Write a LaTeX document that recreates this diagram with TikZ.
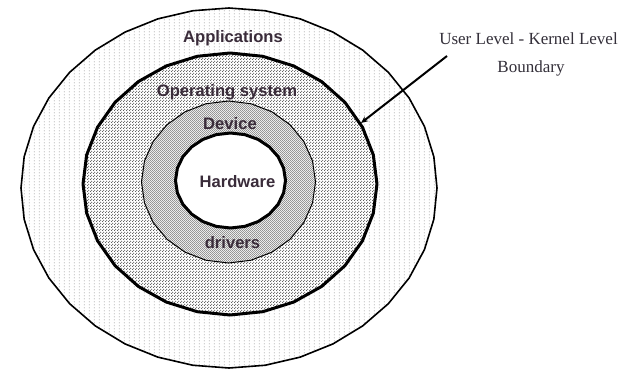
\documentclass[tikz,border=0pt]{standalone}
\usepackage{fontspec}
\setmainfont{Liberation Serif}
\newfontfamily\labelsans{Liberation Sans}
\usetikzlibrary{patterns.meta,arrows.meta}

\definecolor{labelink}{RGB}{58,44,58}
\definecolor{noteink}{RGB}{52,48,58}

% stipple textures for the three shaded rings
\tikzdeclarepattern{
  name=sparsedots,
  bounding box={(0pt,0pt) and (4.5pt,3pt)},
  tile size={(4.5pt,3pt)},
  code={\fill (1.5pt,1.5pt) circle (0.6pt);}
}
\tikzdeclarepattern{
  name=checkdots,
  bounding box={(0pt,0pt) and (3pt,3pt)},
  tile size={(3pt,3pt)},
  code={\fill (0.75pt,0.75pt) circle (0.75pt); \fill (2.25pt,2.25pt) circle (0.75pt);}
}
\tikzdeclarepattern{
  name=finecheck,
  bounding box={(0pt,0pt) and (2.4pt,2.4pt)},
  tile size={(2.4pt,2.4pt)},
  code={\fill (0.6pt,0.6pt) circle (0.55pt); \fill (1.8pt,1.8pt) circle (0.55pt);}
}

\begin{document}
\begin{tikzpicture}[x=1pt,y=-1pt,
  ringlabel/.style={font=\labelsans\bfseries\fontsize{16.6}{18}\selectfont,
    text=labelink, inner sep=0pt, anchor=base},
  notelabel/.style={font=\fontsize{17}{19}\selectfont,
    text=noteink, inner sep=0pt, anchor=base},
  ringedge/.style={draw=black, line join=round}
]
\useasboundingbox (0,0) rectangle (632,372);
\fill[white] (0,0) rectangle (632,372);

% Applications ring
\path[ringedge, line width=1.6pt, preaction={fill=white},
      pattern=sparsedots, pattern color=black!50]
  plot[samples=37, domain=0:360] ({229+208*cos(\x)},{188+180*sin(\x)}) -- cycle;

% Operating system ring (user/kernel boundary)
\path[ringedge, line width=3pt, preaction={fill=white},
      pattern=checkdots, pattern color=black!68]
  plot[samples=29, domain=0:360] ({230+147*cos(\x)},{184+131*sin(\x)}) -- cycle;

% Device driver ring
\path[ringedge, line width=1pt, preaction={fill=black!8},
      pattern=finecheck, pattern color=black!55]
  plot[samples=25, domain=0:360] ({228.5+87*cos(\x)},{182+81*sin(\x)}) -- cycle;

% Hardware core
\path[ringedge, line width=3pt, fill=white]
  plot[samples=25, domain=0:360] ({230.5+55*cos(\x)},{180.5+47.5*sin(\x)}) -- cycle;

% ring labels
\node[ringlabel] (apps) at (233,42) {Applications};
\node[ringlabel] (os)   at (227,96) {Operating system};
\node[ringlabel] (dev)  at (230,129) {Device};
\node[ringlabel] (hw)   at (237.5,187) {Hardware};
\node[ringlabel] (drv)  at (232.5,248) {drivers};

% boundary note and its pointer
\node[notelabel] (note1) at (528.5,44) {User Level - Kernel Level};
\node[notelabel] (note2) at (531,72) {Boundary};
\coordinate (arrowstart) at (447,56);
\coordinate (arrowtip) at (361,123);
\draw[line width=2pt, -{Stealth[length=7pt,width=6pt]}] (arrowstart) -- (arrowtip);
\end{tikzpicture}
\end{document}
